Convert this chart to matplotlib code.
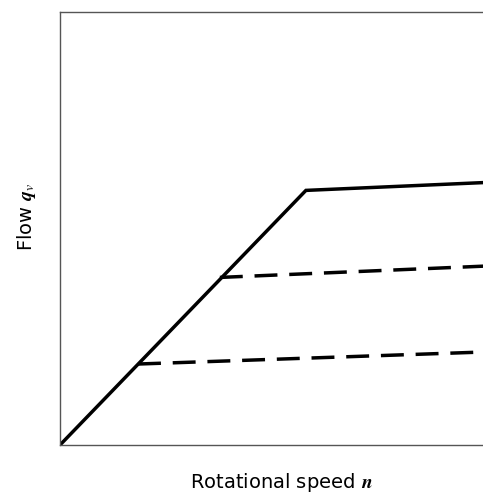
import matplotlib
matplotlib.use("Agg")
import matplotlib.pyplot as plt

plt.rcParams['mathtext.fontset'] = 'stix'
plt.rcParams['font.family'] = ['DejaVu Sans']

# Data (relative units)
solid_x = [0.0, 0.580, 0.998]
solid_y = [0.0, 0.588, 0.606]
dash_hi_x = [0.377, 0.998]
dash_hi_y = [0.387, 0.413]
dash_lo_x = [0.184, 0.976]
dash_lo_y = [0.187, 0.214]

W, H = 483, 494
fig = plt.figure(figsize=(W / 100, H / 100), dpi=100)
ax = fig.add_axes([60 / W, 1 - 445 / H, 424 / W, 433 / H])
ax.set_xlim(0, 1)
ax.set_ylim(0, 1)

lw = 2.5
ax.plot(solid_x, solid_y, color='black', lw=lw, solid_capstyle='butt', solid_joinstyle='miter')
for xs, ys in [(dash_hi_x, dash_hi_y), (dash_lo_x, dash_lo_y)]:
    ax.plot(xs, ys, color='black', lw=lw, dashes=(16.5 / lw, 8.5 / lw), dash_capstyle='butt')

for s in ['left', 'top', 'bottom']:
    ax.spines[s].set_color('#555555')
    ax.spines[s].set_linewidth(1.0)
ax.spines['right'].set_visible(False)
ax.set_xticks([])
ax.set_yticks([])

fig.text(281 / W, 1 - 482 / H, r'Rotational speed $\boldsymbol{n}$', ha='center', va='center', fontsize=14)
fig.text(27 / W, 1 - 217 / H, r'Flow $\boldsymbol{q}_{v}$', ha='center', va='center', rotation=90, fontsize=14)

fig.savefig('out.png', dpi=100)
